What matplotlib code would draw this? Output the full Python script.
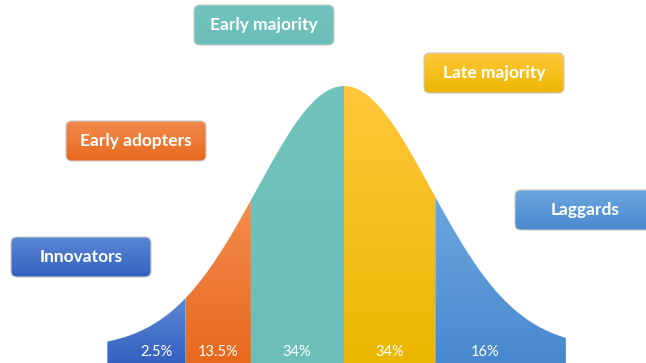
import numpy as np
import matplotlib.pyplot as plt
from matplotlib.colors import LinearSegmentedColormap
from matplotlib.patches import Polygon, FancyBboxPatch

# adopter groups and their share of the bell curve
groups = ["Innovators", "Early adopters", "Early majority", "Late majority", "Laggards"]
shares = ["2.5%", "13.5%", "34%", "34%", "16%"]
# segment boundaries along the curve, in standard-deviation units
edges = [-2.72, -1.82, -1.07, 0.0, 1.05, 2.55]

# gradient colours (top, bottom) per group
col_top = ["#5b88d3", "#f28b4e", "#70c4bd", "#ffc73a", "#6ba7de"]
col_bot = ["#3461c0", "#e8691d", "#6bbfb8", "#ebb700", "#4888cf"]

# ── layout (pixels) ──────────────────────────────────────────────────────────
W, H = 646, 363
CX, SIG, BASE, PEAK = 344, 87, 348, 86      # curve centre / spread / baseline / top
share_x = [-2.15, -1.45, -0.54, 0.52, 1.62]  # label positions in sigma units
box_xy = [(11, 237), (66, 121), (194, 5), (424, 53), (515, 190)]
BOX_W, BOX_H = 140, 40

fig = plt.figure(figsize=(W / 100, H / 100), dpi=100, facecolor="white")

# curve axes: x in sigma units, y in relative height (peak = 1)
ax = fig.add_axes([0, 0, 1, 1])
ax.set_xlim(-CX / SIG, (W - CX) / SIG)
ybot = -(H - BASE) / (BASE - PEAK)
ax.set_ylim(ybot, BASE / (BASE - PEAK))
ax.axis("off")

grad = np.linspace(0, 1, 256).reshape(-1, 1)


def gradient_fill(axis, patch, extent, top, bot):
    cmap = LinearSegmentedColormap.from_list("g", [bot, top])
    im = axis.imshow(grad, extent=extent, origin="lower", cmap=cmap,
                     aspect="auto", interpolation="bicubic", zorder=2)
    im.set_clip_path(patch)


for i in range(len(groups)):
    a, b = edges[i], edges[i + 1]
    z = np.linspace(a, b, 200)
    h = np.exp(-z ** 2 / 2)
    verts = [(a, ybot - 0.05)] + list(zip(z, h)) + [(b, ybot - 0.05)]
    seg = Polygon(verts, closed=True, facecolor="none", edgecolor="none")
    ax.add_patch(seg)
    gradient_fill(ax, seg, [a, b, ybot, h.max()], col_top[i], col_bot[i])
    ax.text(share_x[i], -0.016, shares[i], color="white", fontsize=10.5,
            family="Lato", ha="center", va="center", zorder=4)

# label boxes in pixel units on an overlay
ov = fig.add_axes([0, 0, 1, 1])
ov.set_xlim(0, W)
ov.set_ylim(H, 0)
ov.patch.set_alpha(0)
ov.axis("off")

for i, name in enumerate(groups):
    x0, y0 = box_xy[i]
    box = FancyBboxPatch((x0, y0), BOX_W, BOX_H,
                         boxstyle="round,pad=0,rounding_size=6",
                         facecolor="none", edgecolor="#c9c9c9", linewidth=0.8,
                         zorder=3)
    ov.add_patch(box)
    cmap = LinearSegmentedColormap.from_list("g", [col_bot[i], col_top[i]])
    im = ov.imshow(grad, extent=[x0, x0 + BOX_W, y0 + BOX_H, y0], origin="lower",
                   cmap=cmap, aspect="auto", interpolation="bicubic", zorder=2)
    im.set_clip_path(box)
    ov.text(x0 + BOX_W / 2, y0 + BOX_H / 2, name, color="white", fontsize=12.5,
            family="Lato", fontweight="bold", ha="center", va="center", zorder=4)

ov.set_xlim(0, W)
ov.set_ylim(H, 0)

fig.savefig("out.png", dpi=100, facecolor="white")
